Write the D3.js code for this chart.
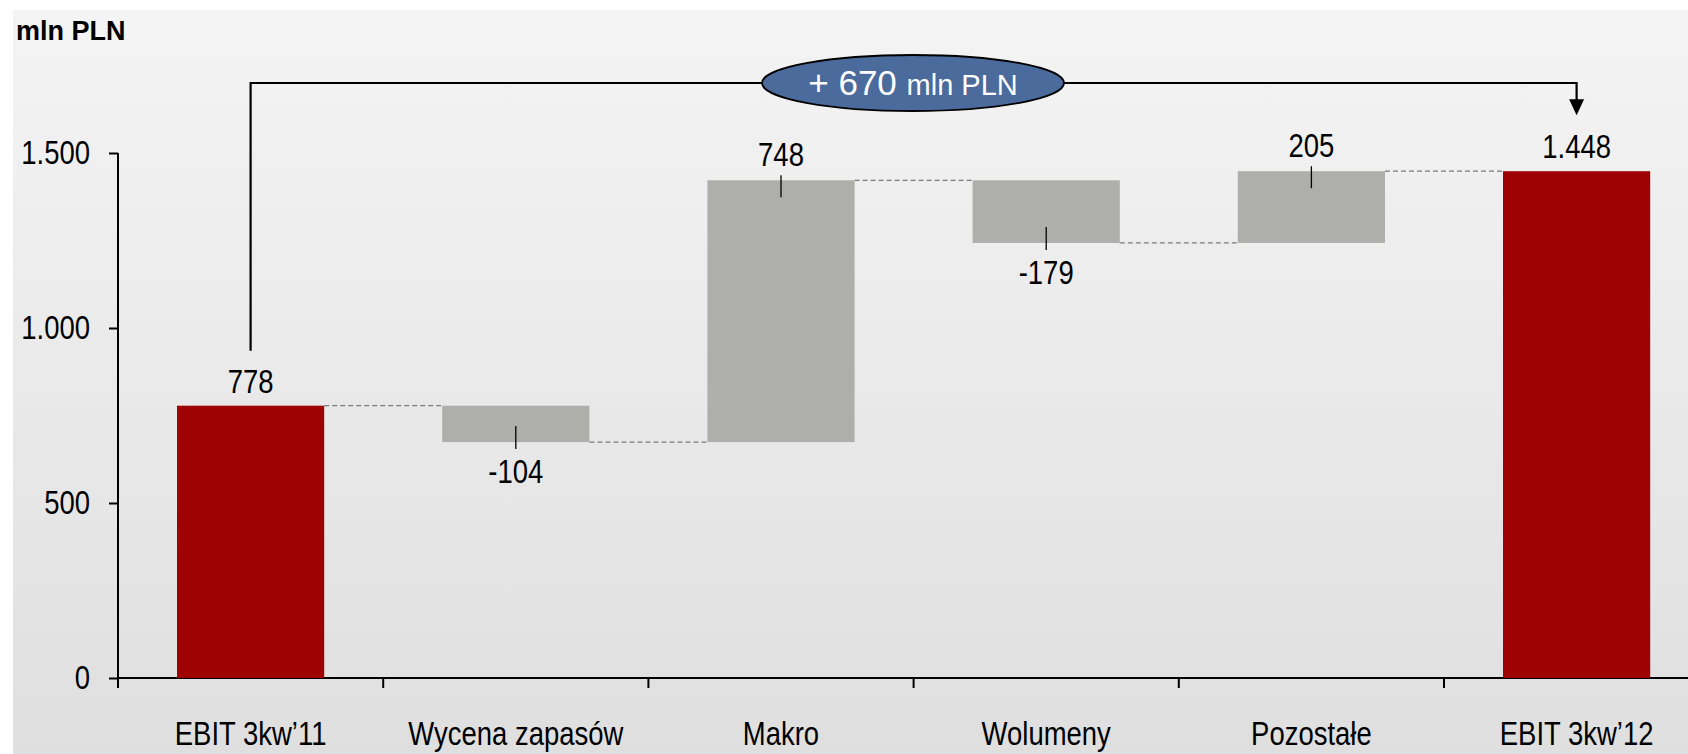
<!DOCTYPE html>
<html>
<head>
<meta charset="UTF-8">
<title>EBIT bridge</title>
<script src="https://d3js.org/d3.v7.min.js"></script>
<style>
  body { margin: 0; background: #fff; }
  text { font-family: 'Liberation Sans', Arial, sans-serif; fill: #000; }
  .axis path, .axis line { stroke: #000; stroke-width: 2; fill: none; }
</style>
</head>
<body>
<script>
// data
var categories = ["EBIT 3kw\u201911", "Wycena zapasów", "Makro", "Wolumeny", "Pozostałe", "EBIT 3kw\u201912"];
var values = [778, -104, 748, -179, 205, 1448];
var kinds = ["total", "delta", "delta", "delta", "delta", "total"];
var yTicks = [0, 500, 1000, 1500];
var unitLabel = "mln PLN";

var width = 1688, height = 754;
var x0 = 118, y0 = 678, yTop = 153;
var step = 265.2;
var squeeze = 0.82; // Arial Narrow look: horizontally compressed Liberation Sans

var pl = d3.formatLocale({ decimal: ",", thousands: ".", grouping: [3], currency: ["", ""], minus: "-" });
var fmt = pl.format(",d");

// make a text narrow around its own anchor point
function narrow(sel) {
    sel.each(function () {
        var t = d3.select(this);
        var x = +t.attr("x") || 0;
        t.attr("x", x / squeeze).attr("transform", "scale(" + squeeze + ",1)");
    });
}

// running totals for the waterfall
var rows = [];
var run = 0;
categories.forEach(function (c, i) {
    var start, end;
    if (kinds[i] === "total") { start = 0; end = values[i]; run = values[i]; }
    else { start = run; end = run + values[i]; run = end; }
    rows.push({ name: c, value: values[i], kind: kinds[i], start: start, end: end });
});

var svg = d3.select("body").append("svg")
    .attr("width", width)
    .attr("height", height);

var defs = svg.append("defs");
var grad = defs.append("linearGradient").attr("id", "bg").attr("x1", 0).attr("y1", 0).attr("x2", 0).attr("y2", 1);
grad.append("stop").attr("offset", "0%").attr("stop-color", "#f4f4f4");
grad.append("stop").attr("offset", "100%").attr("stop-color", "#dfdfdf");

svg.append("rect")
    .attr("x", 13).attr("y", 10)
    .attr("width", width - 13).attr("height", height - 10)
    .attr("fill", "url(#bg)");

var xScale = d3.scaleBand()
    .domain(categories)
    .range([x0, x0 + step * categories.length])
    .paddingInner(0.445)
    .paddingOuter(0.2225);

var yScale = d3.scaleLinear()
    .domain([0, 1500])
    .range([y0, yTop]);

var bw = xScale.bandwidth();
var pad = xScale.step() * xScale.paddingInner() / 2;

// unit label
svg.append("text")
    .attr("x", 16).attr("y", 40)
    .style("font-weight", "bold")
    .style("font-size", "27px")
    .text(unitLabel);

// y axis
var yAxis = d3.axisLeft(yScale)
    .tickValues(yTicks)
    .tickSize(9)
    .tickPadding(19)
    .tickFormat(fmt);

var gy = svg.append("g")
    .attr("class", "axis")
    .attr("transform", "translate(" + x0 + ",0)")
    .call(yAxis);
gy.select(".domain").attr("d", "M0," + yTop + "V" + y0);
gy.selectAll("text").style("font-size", "33.5px").attr("fill", "#000").call(narrow);

// x axis
var xAxis = d3.axisBottom(xScale).tickSize(0);
var gx = svg.append("g")
    .attr("class", "axis")
    .attr("transform", "translate(0," + y0 + ")")
    .call(xAxis);
gx.select(".domain").attr("d", "M" + x0 + ",0H" + width);
gx.selectAll("text")
    .attr("y", 67).attr("dy", 0)
    .style("font-size", "33.5px").attr("fill", "#000")
    .call(narrow);
gx.selectAll(".boundary")
    .data(categories)
    .enter().append("line")
    .attr("class", "boundary")
    .attr("x1", function (d) { return xScale(d) - pad; })
    .attr("x2", function (d) { return xScale(d) - pad; })
    .attr("y1", 0).attr("y2", 10);

// dashed connectors
var links = rows.slice(0, -1).map(function (r, i) { return { a: r, b: rows[i + 1] }; });
svg.append("g").selectAll("line")
    .data(links)
    .enter().append("line")
    .attr("x1", function (d) { return xScale(d.a.name) + bw; })
    .attr("x2", function (d) { return xScale(d.b.name); })
    .attr("y1", function (d) { return yScale(d.a.end); })
    .attr("y2", function (d) { return yScale(d.a.end); })
    .attr("stroke", "#7a7a7a")
    .attr("stroke-width", 1.3)
    .attr("stroke-dasharray", "5,3");

// bars
svg.append("g").selectAll("rect")
    .data(rows)
    .enter().append("rect")
    .attr("x", function (d) { return xScale(d.name); })
    .attr("width", bw)
    .attr("y", function (d) { return yScale(Math.max(d.start, d.end)); })
    .attr("height", function (d) { return Math.abs(yScale(d.start) - yScale(d.end)); })
    .attr("fill", function (d) { return d.kind === "total" ? "#9e0202" : "#aeaeaa"; });

// leader ticks on delta bars
var deltas = rows.filter(function (d) { return d.kind === "delta"; });
svg.append("g").selectAll("line")
    .data(deltas)
    .enter().append("line")
    .attr("x1", function (d) { return xScale(d.name) + bw / 2; })
    .attr("x2", function (d) { return xScale(d.name) + bw / 2; })
    .attr("y1", function (d) { return d.value > 0 ? yScale(d.end) - 5 : yScale(d.end) - 16; })
    .attr("y2", function (d) { return d.value > 0 ? yScale(d.end) + 17 : yScale(d.end) + 7; })
    .attr("stroke", "#000")
    .attr("stroke-width", 1.3);

// value labels
svg.append("g").selectAll("text")
    .data(rows)
    .enter().append("text")
    .attr("x", function (d) { return xScale(d.name) + bw / 2; })
    .attr("y", function (d) {
        if (d.value >= 0) return yScale(d.end) - (d.kind === "total" ? 13 : 14);
        return yScale(d.end) + 41;
    })
    .attr("text-anchor", "middle")
    .style("font-size", "33.5px")
    .text(function (d) { return fmt(d.value); })
    .call(narrow);

// bridge from first total to last total
var first = rows[0], last = rows[rows.length - 1];
var bx1 = xScale(first.name) + bw / 2, bx2 = xScale(last.name) + bw / 2;
var by = 83;
svg.append("path")
    .attr("d", "M" + bx1 + "," + (yScale(first.end) - 55) + "V" + by + "H" + bx2 + "V" + (yScale(last.end) - 68))
    .attr("fill", "none")
    .attr("stroke", "#000")
    .attr("stroke-width", 2.2);
svg.append("path")
    .attr("d", "M" + (bx2 - 7.5) + "," + (yScale(last.end) - 72) + "L" + (bx2 + 7.5) + "," + (yScale(last.end) - 72) + "L" + bx2 + "," + (yScale(last.end) - 56) + "Z")
    .attr("fill", "#000");

var ex = 913;
svg.append("ellipse")
    .attr("cx", ex).attr("cy", by)
    .attr("rx", 151).attr("ry", 28)
    .attr("fill", "#4a6b9c")
    .attr("stroke", "#000")
    .attr("stroke-width", 1.8);

var bt = svg.append("text")
    .attr("x", ex).attr("y", by + 12)
    .attr("text-anchor", "middle")
    .style("fill", "#fff");
bt.append("tspan").style("font-size", "35px").text("+ " + fmt(last.end - first.end) + " ");
bt.append("tspan").style("font-size", "29px").text(unitLabel);
</script>
</body>
</html>
